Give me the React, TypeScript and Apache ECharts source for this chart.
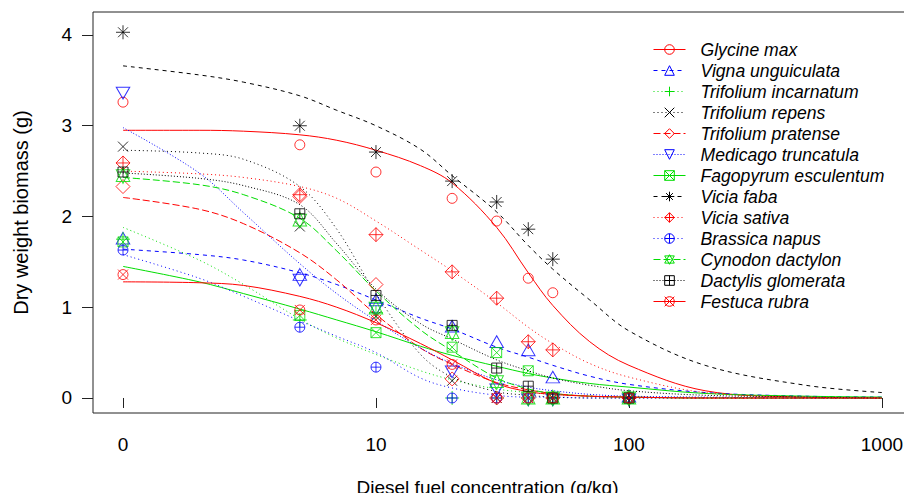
import React, { useEffect, useRef } from 'react';
import * as echarts from 'echarts';

// ---------- data ----------
const concentrations = [0, 5, 10, 20, 30, 40, 50, 100];
const curveConcentrations = [1, 2, 3, 5, 7, 10, 15, 20, 30, 40, 50, 70, 100, 200, 500, 1000];
const xTickValues = [1, 10, 100, 1000];
const xTickLabels = ['0', '10', '100', '1000'];
const yTickValues = [0, 1, 2, 3, 4];

const speciesNames = [
  'Glycine max',
  'Vigna unguiculata',
  'Trifolium incarnatum',
  'Trifolium repens',
  'Trifolium pratense',
  'Medicago truncatula',
  'Fagopyrum esculentum',
  'Vicia faba',
  'Vicia sativa',
  'Brassica napus',
  'Cynodon dactylon',
  'Dactylis glomerata',
  'Festuca rubra',
];

// observed dry weights at each concentration
const glycineObs = [3.26, 2.79, 2.49, 2.2, 1.95, 1.32, 1.16, 0];
const vignaObs = [1.74, 1.34, 1.06, 0.77, 0.6, 0.51, 0.21, 0];
const tIncarnatumObs = [1.75, 0.86, 0.94, 0, 0, 0, 0, 0];
const tRepensObs = [2.77, 1.89, 0.9, 0.19, 0, 0, 0, 0];
const tPratenseObs = [2.33, 2.22, 1.25, 0.21, 0, 0, 0, 0];
const medicagoObs = [3.38, 1.32, 1.0, 0.31, 0.11, 0, 0, 0];
const fagopyrumObs = [1.72, 0.91, 0.72, 0.56, 0.5, 0.3, 0, 0];
const fabaObs = [4.03, 3.0, 2.71, 2.39, 2.16, 1.86, 1.53, 0];
const sativaObs = [2.59, 2.24, 1.8, 1.39, 1.1, 0.62, 0.53, 0];
const brassicaObs = [1.63, 0.78, 0.34, 0, 0, 0, 0, 0];
const cynodonObs = [2.45, 1.96, 0.99, 0.72, 0.18, 0, 0, 0];
const dactylisObs = [2.49, 2.03, 1.13, 0.8, 0.33, 0.13, 0, 0];
const festucaObs = [1.36, 0.97, 0.86, 0.37, 0, 0, 0, 0];

// fitted dose-response curves, read at curveConcentrations
const glycineFit = [2.95, 2.95, 2.94, 2.9, 2.84, 2.73, 2.56, 2.37, 1.88, 1.38, 1.02, 0.62, 0.36, 0.08, 0.01, 0];
const vignaFit = [1.64, 1.58, 1.52, 1.38, 1.25, 1.08, 0.88, 0.76, 0.56, 0.45, 0.36, 0.24, 0.15, 0.06, 0.02, 0.01];
const tIncarnatumFit = [1.88, 1.52, 1.25, 0.87, 0.66, 0.48, 0.3, 0.2, 0.1, 0.06, 0.04, 0.02, 0.01, 0, 0, 0];
const tRepensFit = [2.73, 2.7, 2.63, 2.33, 1.86, 1.15, 0.48, 0.23, 0.07, 0.03, 0.01, 0, 0, 0, 0, 0];
const tPratenseFit = [2.21, 2.08, 1.92, 1.6, 1.3, 0.92, 0.55, 0.37, 0.17, 0.09, 0.05, 0.02, 0.01, 0, 0, 0];
const medicagoFit = [2.98, 2.48, 2.04, 1.48, 1.15, 0.85, 0.55, 0.38, 0.2, 0.12, 0.08, 0.04, 0.02, 0.01, 0, 0];
const fagopyrumFit = [1.45, 1.28, 1.15, 0.98, 0.86, 0.73, 0.57, 0.47, 0.35, 0.27, 0.22, 0.16, 0.12, 0.05, 0.02, 0.01];
const fabaFit = [3.66, 3.56, 3.48, 3.33, 3.17, 3.0, 2.74, 2.45, 2.05, 1.68, 1.42, 1.08, 0.74, 0.36, 0.14, 0.06];
const sativaFit = [2.5, 2.47, 2.43, 2.33, 2.2, 1.95, 1.63, 1.4, 1.05, 0.78, 0.6, 0.38, 0.23, 0.06, 0.01, 0];
const brassicaFit = [1.58, 1.32, 1.12, 0.85, 0.68, 0.5, 0.22, 0.11, 0.03, 0.01, 0.01, 0, 0, 0, 0, 0];
const cynodonFit = [2.43, 2.35, 2.24, 1.98, 1.62, 1.18, 0.75, 0.52, 0.22, 0.1, 0.05, 0.02, 0.01, 0, 0, 0];
const dactylisFit = [2.48, 2.42, 2.34, 2.13, 1.7, 1.2, 0.82, 0.65, 0.42, 0.3, 0.22, 0.14, 0.08, 0.03, 0.01, 0];
const festucaFit = [1.28, 1.27, 1.24, 1.12, 1.0, 0.83, 0.6, 0.42, 0.16, 0.07, 0.04, 0.02, 0.01, 0, 0, 0];

const observedSets = [
  glycineObs, vignaObs, tIncarnatumObs, tRepensObs, tPratenseObs, medicagoObs, fagopyrumObs,
  fabaObs, sativaObs, brassicaObs, cynodonObs, dactylisObs, festucaObs,
];
const fittedSets = [
  glycineFit, vignaFit, tIncarnatumFit, tRepensFit, tPratenseFit, medicagoFit, fagopyrumFit,
  fabaFit, sativaFit, brassicaFit, cynodonFit, dactylisFit, festucaFit,
];

// ---------- styles ----------
const RED = '#FF0000';
const BLUE = '#0000FF';
const GREEN = '#00DD00';
const BLACK = '#000000';

const CIRCLE = 'M-1 0A1 1 0 1 0 1 0A1 1 0 1 0 -1 0Z';
const symbols: Record<string, { path: string; size: number[]; offset: number[] }> = {
  circle: { path: CIRCLE, size: [10, 10], offset: [0, 0] },
  triUp: { path: 'M0 -1L0.866 0.5L-0.866 0.5Z', size: [13.5, 11.7], offset: [0, -1.9] },
  plus: { path: 'M-1 0L1 0M0 -1L0 1', size: [14, 14], offset: [0, 0] },
  cross: { path: 'M-1 -1L1 1M-1 1L1 -1', size: [10, 10], offset: [0, 0] },
  diamond: { path: 'M0 -1L1 0L0 1L-1 0Z', size: [14, 14], offset: [0, 0] },
  triDown: { path: 'M0 1L0.866 -0.5L-0.866 -0.5Z', size: [13.5, 11.7], offset: [0, 1.9] },
  squareCross: { path: 'M-1 -1L1 -1L1 1L-1 1ZM-1 -1L1 1M-1 1L1 -1', size: [10, 10], offset: [0, 0] },
  asterisk: {
    path: 'M-1 0L1 0M0 -1L0 1M-0.707 -0.707L0.707 0.707M-0.707 0.707L0.707 -0.707',
    size: [14, 14],
    offset: [0, 0],
  },
  diamondPlus: { path: 'M0 -1L1 0L0 1L-1 0ZM-1 0L1 0M0 -1L0 1', size: [14, 14], offset: [0, 0] },
  circlePlus: { path: CIRCLE + 'M-1 0L1 0M0 -1L0 1', size: [10, 10], offset: [0, 0] },
  twoTri: {
    path: 'M0 -1L0.866 0.75L-0.866 0.75ZM0 1L0.866 -0.75L-0.866 -0.75Z',
    size: [13.5, 15.6],
    offset: [0, 0],
  },
  squarePlus: { path: 'M-1 -1L1 -1L1 1L-1 1ZM-1 0L1 0M0 -1L0 1', size: [10, 10], offset: [0, 0] },
  circleCross: { path: CIRCLE + 'M-1 -1L1 1M-1 1L1 -1', size: [10, 10], offset: [0, 0] },
};

const DASH = [4, 4];
const DOT = [1, 3];
const DOT2 = [1, 2];
const LONGDASH = [7, 3];

const speciesStyle = [
  { color: RED, symbol: 'circle', dash: 'solid' as any },
  { color: BLUE, symbol: 'triUp', dash: DASH },
  { color: GREEN, symbol: 'plus', dash: DOT },
  { color: BLACK, symbol: 'cross', dash: DOT },
  { color: RED, symbol: 'diamond', dash: LONGDASH },
  { color: BLUE, symbol: 'triDown', dash: DOT2 },
  { color: GREEN, symbol: 'squareCross', dash: 'solid' as any },
  { color: BLACK, symbol: 'asterisk', dash: DASH },
  { color: RED, symbol: 'diamondPlus', dash: DOT },
  { color: BLUE, symbol: 'circlePlus', dash: DOT },
  { color: GREEN, symbol: 'twoTri', dash: LONGDASH },
  { color: BLACK, symbol: 'squarePlus', dash: DOT2 },
  { color: RED, symbol: 'circleCross', dash: 'solid' as any },
];

const FONT = 'Liberation Sans, Arial, sans-serif';

function buildOption() {
  const series: any[] = [];
  speciesNames.forEach((name, i) => {
    const st = speciesStyle[i];
    const sym = symbols[st.symbol];
    series.push({
      name,
      type: 'line',
      data: curveConcentrations.map((c, k) => [c, fittedSets[i][k]]),
      smooth: 0.35,
      showSymbol: false,
      symbol: 'path://' + sym.path,
      symbolSize: sym.size,
      lineStyle: { color: st.color, width: 1, type: st.dash },
      itemStyle: { color: st.color },
      silent: true,
      z: 2,
    });
    series.push({
      name: name + ' (observed)',
      type: 'scatter',
      data: concentrations.map((c, k) => [c === 0 ? 1 : c, observedSets[i][k]]),
      symbol: 'path://' + sym.path,
      symbolSize: sym.size,
      symbolOffset: sym.offset,
      itemStyle: { color: 'rgba(0,0,0,0)', borderColor: st.color, borderWidth: 1 },
      silent: true,
      z: 3,
    });
  });

  return {
    animation: false,
    backgroundColor: '#ffffff',
    textStyle: { fontFamily: FONT },
    grid: {
      left: 93,
      top: 12,
      right: -8,
      bottom: 80,
      show: true,
      borderColor: '#222',
      borderWidth: 1,
      backgroundColor: 'transparent',
      containLabel: false,
      outerBoundsMode: 'none',
    },
    legend: {
      orient: 'vertical',
      left: 648,
      top: 34,
      itemWidth: 32,
      itemHeight: 12,
      itemGap: 0,
      selectedMode: false,
      data: speciesNames.map((n, i) => ({
        name: n,
        itemStyle: {
          color: 'rgba(0,0,0,0)',
          borderColor: speciesStyle[i].color,
          borderWidth: 1,
        },
        lineStyle: {
          color: speciesStyle[i].color,
          width: 1,
          type: speciesStyle[i].dash,
          opacity: 1,
        },
      })),
      formatter: (n: string) => '{g|}' + n,
      textStyle: {
        fontFamily: FONT,
        fontStyle: 'italic',
        fontSize: 17.6,
        lineHeight: 21,
        color: '#000',
        rich: { g: { width: 10, lineHeight: 21 } },
      },
    },
    xAxis: {
      type: 'log',
      logBase: 10,
      min: 0.761,
      max: 1315,
      name: 'Diesel fuel concentration (g/kg)',
      nameLocation: 'middle',
      nameGap: 65,
      nameMoveOverlap: false,
      nameTextStyle: { fontSize: 19, color: '#000', fontFamily: FONT, padding: [0, 30, 0, 0] },
      axisLine: { show: false },
      axisTick: {
        show: true,
        length: 10,
        customValues: xTickValues,
        lineStyle: { color: '#222', width: 1 },
      },
      axisLabel: {
        customValues: xTickValues,
        formatter: (v: number) => xTickLabels[xTickValues.indexOf(v)] ?? String(v),
        fontSize: 19,
        color: '#000',
        margin: 22,
        fontFamily: FONT,
      },
      splitLine: { show: false },
      minorTick: { show: false },
    },
    yAxis: {
      type: 'value',
      min: -0.1653,
      max: 4.2534,
      name: 'Dry weight biomass (g)',
      nameLocation: 'middle',
      nameGap: 62,
      nameMoveOverlap: false,
      nameTextStyle: { fontSize: 20, color: '#000', fontFamily: FONT },
      axisLine: { show: false },
      axisTick: {
        show: true,
        length: 11,
        customValues: yTickValues,
        lineStyle: { color: '#222', width: 1 },
      },
      axisLabel: {
        customValues: yTickValues,
        fontSize: 19,
        color: '#000',
        margin: 21,
        fontFamily: FONT,
      },
      splitLine: { show: false },
    },
    series,
  };
}

export default function App() {
  const ref = useRef<HTMLDivElement>(null);
  useEffect(() => {
    if (!ref.current) return;
    const chart = echarts.init(ref.current, undefined, { renderer: 'svg' });
    chart.setOption(buildOption() as any);
    return () => chart.dispose();
  }, []);
  return (
    <div
      ref={ref}
      style={{ position: 'fixed', left: 0, top: 0, width: 904, height: 493, background: '#fff' }}
    />
  );
}
